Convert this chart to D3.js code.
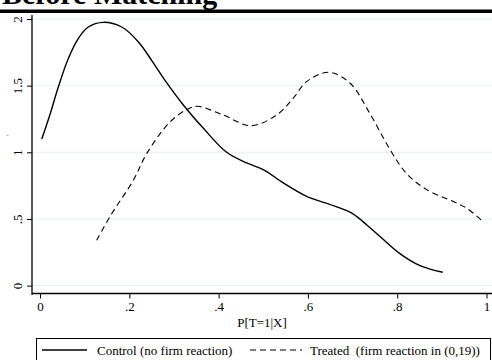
<!DOCTYPE html>
<html>
<head>
<meta charset="utf-8">
<script src="https://cdn.jsdelivr.net/npm/d3@7"></script>
<style>
  body { margin: 0; background: #fff; }
  svg text { font-family: "Liberation Serif", "Times New Roman", serif; }
</style>
</head>
<body>
<div id="chart"></div>
<script>
const titleText = "Before Matching";
const xTitle = "P[T=1|X]";
const xTicks = [0, 0.2, 0.4, 0.6, 0.8, 1];
const xTickLabels = ["0", ".2", ".4", ".6", ".8", "1"];
const yTicks = [0, 0.5, 1, 1.5, 2];
const yTickLabels = ["0", ".5", "1", "1.5", "2"];
const seriesNames = ["Control (no firm reaction)", "Treated  (firm reaction in (0,19))"];

// kernel density estimates
const controlX = [0.004, 0.022, 0.041, 0.063, 0.086, 0.108, 0.142, 0.183, 0.22, 0.25, 0.28, 0.321, 0.366, 0.418, 0.463, 0.50, 0.545, 0.597, 0.657, 0.70, 0.732, 0.761, 0.806, 0.851, 0.902];
const controlY = [1.10, 1.28, 1.49, 1.70, 1.855, 1.94, 1.975, 1.94, 1.83, 1.69, 1.54, 1.355, 1.18, 1.00, 0.92, 0.87, 0.77, 0.67, 0.60, 0.54, 0.455, 0.37, 0.24, 0.15, 0.10];
const treatedX = [0.127, 0.157, 0.209, 0.239, 0.289, 0.328, 0.353, 0.41, 0.472, 0.53, 0.567, 0.597, 0.646, 0.694, 0.739, 0.784, 0.821, 0.866, 0.926, 0.956, 0.989];
const treatedY = [0.34, 0.52, 0.79, 0.99, 1.22, 1.32, 1.345, 1.28, 1.20, 1.28, 1.405, 1.53, 1.60, 1.52, 1.29, 1.02, 0.84, 0.72, 0.63, 0.58, 0.49];

const width = 492, height = 360;

const svg = d3.select("#chart")
  .append("svg")
  .attr("width", width)
  .attr("height", height);

// title, cut off at the top edge like the original
svg.append("text")
  .attr("x", 2)
  .attr("y", 3.5)
  .attr("font-size", 30)
  .attr("font-weight", "bold")
  .text(titleText);

svg.append("rect")
  .attr("x", 0).attr("y", 9.5)
  .attr("width", width).attr("height", 3.5)
  .attr("fill", "#000");

const x = d3.scaleLinear().domain([0, 1]).range([40, 486.5]);
const y = d3.scaleLinear().domain([0, 2]).range([285.6, 19]);

const axisLeftX = 32, axisBottomY = 293.5;

// grid
svg.append("g")
  .selectAll("line")
  .data(yTicks)
  .enter()
  .append("line")
  .attr("x1", axisLeftX).attr("x2", width)
  .attr("y1", d => y(d)).attr("y2", d => y(d))
  .attr("stroke", "#e6efef")
  .attr("stroke-width", 1);

// y axis
const yAxis = svg.append("g")
  .attr("transform", "translate(" + axisLeftX + ",0)")
  .call(d3.axisLeft(y).tickValues(yTicks).tickSize(5).tickPadding(0)
    .tickFormat((d, i) => yTickLabels[i]));
yAxis.select(".domain").attr("d", "M0,15V" + (axisBottomY + 1.5)).attr("stroke", "#000").attr("stroke-width", 1.3);
yAxis.selectAll(".tick line").attr("stroke", "#000");
yAxis.selectAll(".tick text")
  .attr("font-size", 13)
  .attr("font-family", "Liberation Serif")
  .attr("fill", "#000")
  .attr("transform", "translate(-15,0) rotate(-90)")
  .attr("x", 0).attr("y", 0).attr("dy", "0.35em")
  .style("text-anchor", "middle");

// tiny y title mark
svg.append("text")
  .attr("transform", "translate(11,135) rotate(-90)")
  .attr("font-size", 7)
  .attr("text-anchor", "middle")
  .text("'");

// x axis
const xAxis = svg.append("g")
  .attr("transform", "translate(0," + axisBottomY + ")")
  .call(d3.axisBottom(x).tickValues(xTicks).tickSize(5).tickPadding(3)
    .tickFormat((d, i) => xTickLabels[i]));
xAxis.select(".domain").attr("d", "M" + axisLeftX + ",0H" + width).attr("stroke", "#000").attr("stroke-width", 1.3);
xAxis.selectAll(".tick line").attr("stroke", "#000");
xAxis.selectAll(".tick text")
  .attr("font-size", 13)
  .attr("font-family", "Liberation Serif")
  .attr("fill", "#000");

svg.append("text")
  .attr("x", 262)
  .attr("y", 327)
  .attr("font-size", 13)
  .attr("text-anchor", "middle")
  .text(xTitle);

// density lines
const line = d3.line()
  .x(d => x(d[0]))
  .y(d => y(d[1]))
  .curve(d3.curveCatmullRom.alpha(0.5));

svg.append("path")
  .datum(controlX.map((v, i) => [v, controlY[i]]))
  .attr("d", line)
  .attr("fill", "none")
  .attr("stroke", "#000")
  .attr("stroke-width", 1.4);

svg.append("path")
  .datum(treatedX.map((v, i) => [v, treatedY[i]]))
  .attr("d", line)
  .attr("fill", "none")
  .attr("stroke", "#000")
  .attr("stroke-width", 1.1)
  .attr("stroke-dasharray", "6,4");

// legend
const legend = svg.append("g");
legend.append("rect")
  .attr("x", 36.5).attr("y", 338.5)
  .attr("width", 454).attr("height", 30)
  .attr("fill", "#fff")
  .attr("stroke", "#000")
  .attr("stroke-width", 1);

legend.append("line")
  .attr("x1", 42).attr("x2", 87).attr("y1", 350).attr("y2", 350)
  .attr("stroke", "#000").attr("stroke-width", 1.3);
legend.append("text")
  .attr("x", 97).attr("y", 354.5)
  .attr("font-size", 13)
  .text(seriesNames[0]);

legend.append("line")
  .attr("x1", 250).attr("x2", 302).attr("y1", 350).attr("y2", 350)
  .attr("stroke", "#000").attr("stroke-width", 1.1)
  .attr("stroke-dasharray", "6,4");
legend.append("text")
  .attr("x", 310).attr("y", 354.5)
  .attr("font-size", 13)
  .attr("xml:space", "preserve")
  .style("white-space", "pre")
  .text(seriesNames[1]);
</script>
</body>
</html>
